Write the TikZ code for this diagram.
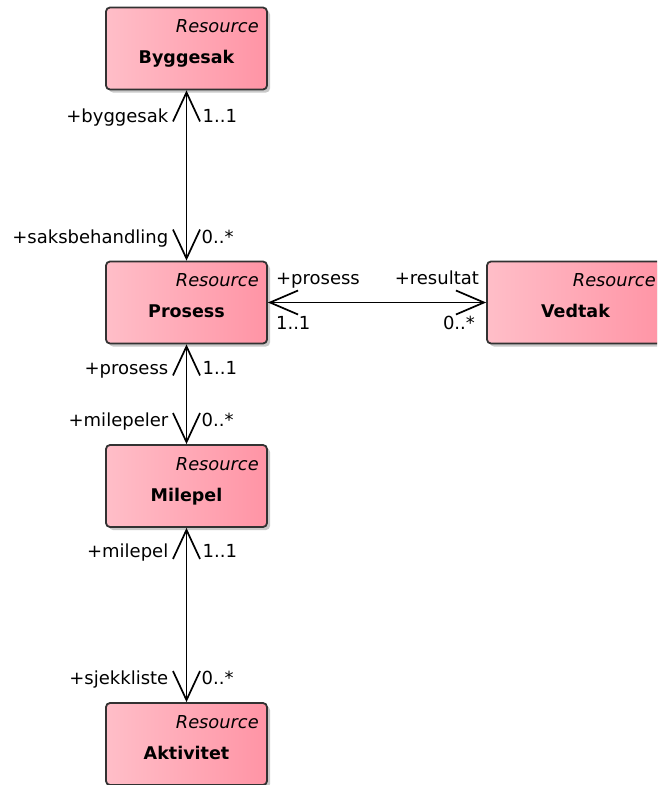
\documentclass[tikz,border=0pt]{standalone}
\usepackage{fontspec}
\setmainfont{DejaVu Sans}
\usetikzlibrary{arrows.meta,calc,shadows}

\definecolor{boxleft}{RGB}{255,190,200}
\definecolor{boxright}{RGB}{255,148,165}
\definecolor{boxedge}{RGB}{50,50,50}

\tikzset{
  umlclass/.style={
    rectangle, rounded corners=4pt, draw=boxedge, line width=1.8pt,
    left color=boxleft, right color=boxright,
    minimum width=161pt, minimum height=82pt, inner sep=0pt,
    drop shadow={shadow xshift=3pt, shadow yshift=-3pt, opacity=0.3, fill=black!70}
  },
  stereo/.style={anchor=base east, inner sep=0pt, font=\fontsize{17.8}{21}\selectfont\itshape},
  classname/.style={anchor=base, inner sep=0pt, font=\fontsize{17.5}{21}\selectfont\bfseries},
  rolelabel/.style={inner sep=0pt, font=\fontsize{18}{21}\selectfont},
  assoc/.style={line width=1.7pt, draw=black, {Straight Barb[length=29pt,width=27pt]}-{Straight Barb[length=29pt,width=27pt]}},
  assoch/.style={line width=1.7pt, draw=black, {Straight Barb[length=28pt,width=24pt]}-{Straight Barb[length=28pt,width=24pt]}}
}

\begin{document}
\begin{tikzpicture}[x=1pt,y=-1pt]
  \useasboundingbox (0,0) rectangle (657,785);
  \clip (0,0) rectangle (657,785);

  % classes
  \node[umlclass] (bygg) at (186.5,48.5) {};
  \node[umlclass] (pros) at (186.5,302.5) {};
  \node[umlclass, minimum width=177pt] (ved) at (575.5,302.5) {};
  \node[umlclass] (mile) at (186.5,486) {};
  \node[umlclass] (akt) at (186.5,744) {};

  % stereotypes and names
  \foreach \c/\n in {bygg/Byggesak, pros/Prosess, ved/Vedtak, mile/Milepel, akt/Aktivitet} {
    \node[stereo] (\c-st) at ($(\c.north east)+(-9,26)$) {Resource};
    \node[classname] (\c-nm) at ($(\c.north)+(0,57)$) {\n};
  }

  % associations
  \draw[assoc] (bygg.south) -- (pros.north);
  \draw[assoc] (pros.south) -- (mile.north);
  \draw[assoc] (mile.south) -- (akt.north);
  \draw[assoch] (pros.east) -- (ved.west);

  % role names and multiplicities
  \node[rolelabel, anchor=base east] (r1a) at ($(bygg.south)+(-18,32)$) {+byggesak};
  \node[rolelabel, anchor=base west] (m1a) at ($(bygg.south)+(16,32)$) {1..1};
  \node[rolelabel, anchor=base east] (r1b) at ($(pros.north)+(-18,-17)$) {+saksbehandling};
  \node[rolelabel, anchor=base west] (m1b) at ($(pros.north)+(15,-17)$) {0..*};

  \node[rolelabel, anchor=base east] (r2a) at ($(pros.south)+(-18,30)$) {+prosess};
  \node[rolelabel, anchor=base west] (m2a) at ($(pros.south)+(16,30)$) {1..1};
  \node[rolelabel, anchor=base east] (r2b) at ($(mile.north)+(-18,-18)$) {+milepeler};
  \node[rolelabel, anchor=base west] (m2b) at ($(mile.north)+(15,-18)$) {0..*};

  \node[rolelabel, anchor=base east] (r3a) at ($(mile.south)+(-18,30)$) {+milepel};
  \node[rolelabel, anchor=base west] (m3a) at ($(mile.south)+(16,30)$) {1..1};
  \node[rolelabel, anchor=base east] (r3b) at ($(akt.north)+(-18,-18)$) {+sjekkliste};
  \node[rolelabel, anchor=base west] (m3b) at ($(akt.north)+(15,-18)$) {0..*};

  \node[rolelabel, anchor=base west] (r4a) at ($(pros.east)+(8,-18)$) {+prosess};
  \node[rolelabel, anchor=base west] (m4a) at ($(pros.east)+(8,27)$) {1..1};
  \node[rolelabel, anchor=base east] (r4b) at ($(ved.west)+(-7,-18)$) {+resultat};
  \node[rolelabel, anchor=base east] (m4b) at ($(ved.west)+(-11,27)$) {0..*};
\end{tikzpicture}
\end{document}
